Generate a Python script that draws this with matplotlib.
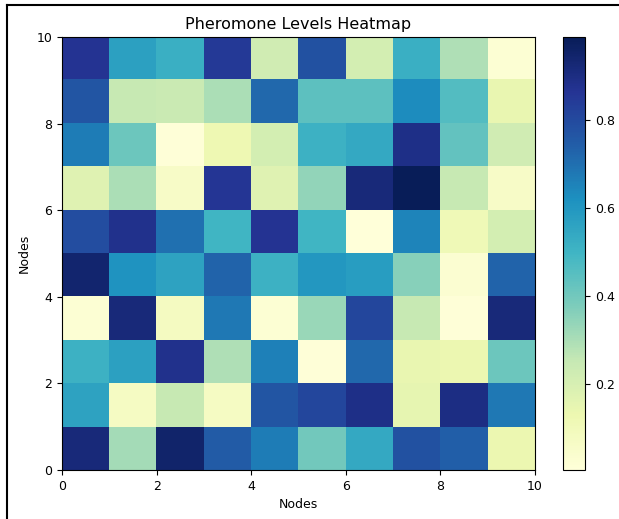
import numpy as np
import matplotlib
matplotlib.use('Agg')
from matplotlib import pyplot as plt
from matplotlib.lines import Line2D

# pheromone levels, rows listed from top (y=9..10) down to bottom (y=0..1)
row9 = [0.87, 0.57, 0.52, 0.85, 0.22, 0.78, 0.21, 0.52, 0.29, 0.02]
row8 = [0.77, 0.25, 0.24, 0.30, 0.72, 0.44, 0.44, 0.63, 0.46, 0.14]
row7 = [0.67, 0.41, 0.01, 0.12, 0.21, 0.51, 0.54, 0.89, 0.43, 0.22]
row6 = [0.17, 0.30, 0.06, 0.86, 0.17, 0.34, 0.92, 0.99, 0.25, 0.06]
row5 = [0.79, 0.88, 0.70, 0.50, 0.87, 0.50, 0.004, 0.65, 0.11, 0.21]
row4 = [0.94, 0.61, 0.56, 0.73, 0.51, 0.60, 0.58, 0.36, 0.03, 0.73]
row3 = [0.02, 0.92, 0.08, 0.68, 0.02, 0.33, 0.81, 0.25, 0.01, 0.92]
row2 = [0.51, 0.57, 0.88, 0.29, 0.66, 0.01, 0.72, 0.14, 0.13, 0.41]
row1 = [0.56, 0.07, 0.25, 0.07, 0.77, 0.81, 0.89, 0.15, 0.90, 0.68]
row0 = [0.92, 0.31, 0.95, 0.75, 0.67, 0.40, 0.54, 0.78, 0.74, 0.13]

pheromone = np.array([row9, row8, row7, row6, row5, row4, row3, row2, row1, row0])

fig = plt.figure(figsize=(6.19, 5.19), dpi=100)
ax = fig.add_axes([0.1002, 0.0944, 0.7641, 0.8343])
cax = fig.add_axes([0.9095, 0.0944, 0.0355, 0.8343])

im = ax.imshow(pheromone, cmap='YlGnBu', origin='upper', extent=[0, 10, 0, 10],
               aspect='auto')
cb = fig.colorbar(im, cax=cax)
cb.set_ticks([0.2, 0.4, 0.6, 0.8])

ax.set_xticks([0, 2, 4, 6, 8, 10])
ax.set_yticks([0, 2, 4, 6, 8, 10])
ax.tick_params(labelsize=9)
cb.ax.tick_params(labelsize=9)
ax.set_title('Pheromone Levels Heatmap', fontsize=11.5)
ax.set_xlabel('Nodes', fontsize=9)
ax.set_ylabel('Nodes', fontsize=9)

# screenshot frame (only top and left edges show)
fig.add_artist(Line2D([0.011, 1.0], [0.990, 0.990], transform=fig.transFigure,
                      color='black', linewidth=1.5))
fig.add_artist(Line2D([0.011, 0.011], [0.0, 0.990], transform=fig.transFigure,
                      color='black', linewidth=1.5))

fig.savefig('out.png', dpi=100)
